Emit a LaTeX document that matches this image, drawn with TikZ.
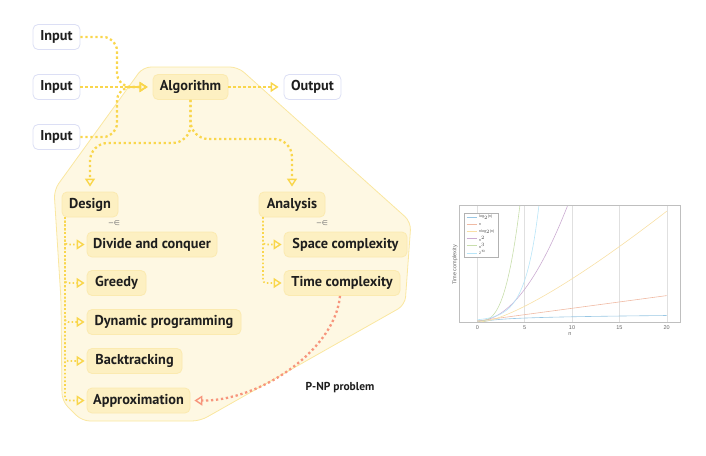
\documentclass[tikz,border=0pt]{standalone}
\usepackage{fontspec}
\setmainfont{PT Sans}
\newfontfamily\chartf{Liberation Sans}
\newfontfamily\symf{DejaVu Sans}
\usetikzlibrary{arrows.meta}
\definecolor{bgfill}{HTML}{FEF8E3}
\definecolor{bgdraw}{HTML}{FAE7A0}
\definecolor{nfill}{HTML}{FDF0C2}
\definecolor{ndraw}{HTML}{FBEAB0}
\definecolor{iodraw}{HTML}{DCDFF5}
\definecolor{ayel}{HTML}{F9D64C}
\definecolor{aora}{HTML}{F7957C}
\definecolor{txt}{HTML}{1E1E1E}
\definecolor{mblue}{rgb}{0,0.447,0.741}
\definecolor{morange}{rgb}{0.85,0.325,0.098}
\definecolor{myellow}{rgb}{0.929,0.694,0.125}
\definecolor{mpurple}{rgb}{0.494,0.184,0.556}
\definecolor{mgreen}{rgb}{0.466,0.674,0.188}
\definecolor{mcyan}{rgb}{0.301,0.745,0.933}
\tikzset{
  box/.style={rounded corners=5pt, minimum height=25pt, inner sep=0pt,
    font=\fontsize{14.3}{16}\selectfont\bfseries, text=txt},
  ybox/.style={box, fill=nfill, draw=ndraw, line width=0.8pt},
  wbox/.style={box, fill=white, draw=iodraw, line width=0.8pt},
  yarrow/.style={draw=ayel, line width=2.3pt, dash pattern=on 2.3pt off 2.7pt,
    -{Triangle[open, length=8pt, width=10pt, line width=1.4pt]}, shorten >=5pt},
  oarrow/.style={draw=aora, line width=2.3pt, dash pattern=on 2.3pt off 2.7pt,
    -{Triangle[open, length=8pt, width=10pt, line width=1.4pt]}, shorten >=4pt},
  bgpoly/.style={fill=bgfill, draw=bgdraw, line width=0.8pt, rounded corners=8pt},
  curve/.style={line width=0.6pt},
  ticklab/.style={font=\chartf\fontsize{5.5}{6}\selectfont, text=black!60},
  leglab/.style={font=\chartf\fontsize{3.6}{4}\selectfont, text=black!70, anchor=west, inner sep=0pt},
  sym/.style={font=\symf\fontsize{7}{8}\selectfont, text=black!55, inner sep=0pt},
}
\begin{document}
\begin{tikzpicture}[x=1pt, y=-1pt]
\useasboundingbox (0,0) rectangle (706,455);
% background region
\draw[bgpoly] (143,67) -- (238,67) -- (411,222) -- (405,305) -- (200,421) -- (82,421) -- (62,401) -- (61,300) -- (54,190) -- cycle;

% nodes
\node[wbox, minimum width=47pt] (in1) at (56.5,37) {Input};
\node[wbox, minimum width=47pt] (in2) at (56.5,87) {Input};
\node[wbox, minimum width=47pt] (in3) at (56.5,137) {Input};
\node[ybox, minimum width=75pt] (alg) at (190.5,87) {Algorithm};
\node[wbox, minimum width=57pt] (out) at (312.5,87) {Output};
\node[ybox, minimum width=56pt] (design) at (90,204.5) {Design};
\node[ybox, minimum width=66pt] (analysis) at (292,204.5) {Analysis};
\node[ybox, minimum width=130pt] (dac) at (152,244.5) {Divide and conquer};
\node[ybox, minimum width=59pt] (greedy) at (116.5,283) {Greedy};
\node[ybox, minimum width=154pt] (dp) at (164,322) {Dynamic programming};
\node[ybox, minimum width=95pt] (bt) at (134.5,361) {Backtracking};
\node[ybox, minimum width=103pt] (approx) at (138.5,400.5) {Approximation};
\node[ybox, minimum width=123pt] (space) at (345.5,244.5) {Space complexity};
\node[ybox, minimum width=116pt] (time) at (342,283) {Time complexity};
\node[sym] (s1) at (114,223) {−∈};
\node[sym] (s2) at (322,223) {−∈};
\node[font=\fontsize{11.5}{13}\selectfont\bfseries, text=txt] (pnp) at (340,388) {P-NP problem};

% junction coordinates
\coordinate (j1) at (117,87);
\coordinate (j2) at (150,143);
\coordinate (j3) at (240,139);
\coordinate (dl) at (65,217);
\coordinate (al) at (263,217);

% connectors
\draw[yarrow, rounded corners=14pt] (in1.east) -| (j1) -- (alg.west);
\draw[yarrow] (in2.east) -- (alg.west);
\draw[yarrow, rounded corners=14pt] (in3.east) -| (j1) -- (alg.west);
\draw[yarrow] (alg.east) -- (out.west);
\draw[yarrow, rounded corners=18pt] (alg.south) |- (j2) -| (design.north);
\draw[yarrow, rounded corners=18pt] (alg.south) |- (j3) -| (analysis.north);
\foreach \c in {dac,greedy,dp,bt,approx}
  \draw[yarrow, line width=1.6pt, dash pattern=on 1.6pt off 2.2pt, rounded corners=3pt, shorten >=2pt] (dl) |- (\c.west);
\foreach \c in {space,time}
  \draw[yarrow, line width=1.6pt, dash pattern=on 1.6pt off 2.2pt, rounded corners=3pt, shorten >=2pt] (al) |- (\c.west);
\draw[oarrow] ([xshift=-2pt]time.south) .. controls (335,350) and (260,401) .. (approx.east);

% chart
\begin{scope}[shift={(477.3pt,-321pt)}, x=9.47pt, y=1.27pt]
  \begin{scope}
  \clip (-1.9,-0.8) rectangle (21.4,91.3);
  \foreach \g in {0,5,10,15,20} \draw[black!12, line width=0.4pt] (\g,-0.8) -- (\g,91.3);
  \draw[curve, mblue!40] plot[domain=0.6:20, samples=60] (\x,{ln(\x)/ln(2)});
  \draw[curve, morange!40] (0,0) -- (20,20);
  \draw[curve, myellow!40] plot[domain=0.05:20, samples=60] (\x,{\x*ln(\x)/ln(2)});
  \draw[curve, mpurple!40] plot[domain=0:9.8, samples=50] (\x,{\x*\x});
  \draw[curve, mgreen!40] plot[domain=0:4.7, samples=40] (\x,{\x*\x*\x});
  \draw[curve, mcyan!40] plot[domain=0:6.7, samples=50] (\x,{2^\x});
  \end{scope}
\end{scope}
\draw[black!25, line width=0.5pt] (459.3,205) rectangle (680,322);
\foreach \k/\l in {0/0,1/5,2/10,3/15,4/20}
  \node[ticklab] (t\k) at ({477.3+47.35*\k},327.5) {\l};
\node[ticklab] (xl) at (570,334) {n};
\node[ticklab, rotate=90] (yl) at (455,265) {Time complexity};
% legend
\draw[black!30, fill=white, line width=0.4pt] (464,213) rectangle (498,257);
\foreach \i/\c/\t in {0/mblue/{log$_2$(n)},1/morange/n,2/myellow/{nlog$_2$(n)},3/mpurple/{n$^2$},4/mgreen/{n$^3$},5/mcyan/{2$^n$}} {
  \draw[curve, \c!40] (466.5,{217.3+7.1*\i}) -- (477,{217.3+7.1*\i});
  \node[leglab] (lg\i) at (479,{217.3+7.1*\i}) {\t};
}
\end{tikzpicture}
\end{document}
